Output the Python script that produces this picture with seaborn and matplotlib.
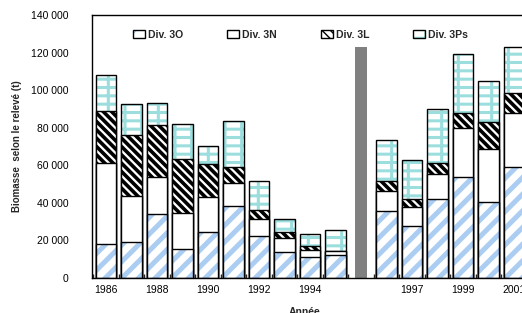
import numpy as np
import pandas as pd
import matplotlib.pyplot as plt
import seaborn as sns
from matplotlib.patches import Patch
from matplotlib.ticker import FixedLocator, FuncFormatter

# ================== Données ==================
annees = ["1986", "1987", "1988", "1989", "1990", "1991", "1992", "1993", "1994", "1995",
          "1996", "1997", "1998", "1999", "2000", "2001"]
div_3o = [17800, 19200, 33800, 15300, 24200, 38400, 22200, 13900, 10900, 12100,
          35400, 27700, 41800, 53900, 40500, 58900]
div_3n = [43200, 24500, 20100, 19400, 18700, 11900, 9100, 7100, 3900, 2000,
          11000, 9800, 13300, 26100, 28100, 29100]
div_3l = [27900, 32400, 27500, 28600, 17600, 8900, 4800, 3500, 2100, 300,
          5300, 4300, 6200, 7700, 14300, 10700]
div_3ps = [19200, 16400, 11900, 18500, 9700, 24200, 15600, 6600, 6200, 11000,
           21700, 21000, 28500, 31600, 22200, 24200]

# barre grise : changement d'engin entre 1995 et 1996
separateur = " "
separateur_valeur = 123000

ordre = annees[:10] + [separateur] + annees[10:]
annees_affichees = ["1986", "1988", "1990", "1992", "1994", "1997", "1999", "2001"]

df = pd.DataFrame({"annee": annees, "3O": div_3o, "3N": div_3n, "3L": div_3l, "3Ps": div_3ps})
df["c1"] = df["3O"]
df["c2"] = df["c1"] + df["3N"]
df["c3"] = df["c2"] + df["3L"]
df["c4"] = df["c3"] + df["3Ps"]
df_sep = pd.DataFrame({"annee": [separateur], "valeur": [separateur_valeur]})

# ================== Style ==================
sns.set_style("white")
plt.rcParams['font.family'] = ['Liberation Sans', 'DejaVu Sans']

bleu = "#abcdf2"
turquoise = "#9cdede"
gris = "#808080"

couches = [
    ("c4", "--|", turquoise, 2.2),
    ("c3", "\\\\\\\\", "black", 2.6),
    ("c2", None, "white", 1.0),
    ("c1", "//", bleu, 3.6),
]

fig = plt.figure(figsize=(5.22, 3.13), dpi=100)
ax = fig.add_axes([92 / 522, 35.3 / 313, 430 / 522, 262.5 / 313])


def style_barres(patches, hatch, hcolor, hlw, outline):
    for p in patches:
        if outline:
            p.set_facecolor("none")
            p.set_edgecolor("black")
            p.set_linewidth(1.0)
            p.set_hatch(None)
        else:
            p.set_facecolor("white")
            p.set_edgecolor(hcolor)
            p.set_linewidth(0)
            p.set_hatch(hatch)
            if hasattr(p, "set_hatch_linewidth"):
                p.set_hatch_linewidth(hlw)


# empilement : on dessine du total vers le bas, chaque couche recouvre la précédente
for col, hatch, hcolor, hlw in couches:
    with plt.rc_context({"hatch.linewidth": hlw}):
        n0 = len(ax.patches)
        sns.barplot(data=df, x="annee", y=col, order=ordre, width=0.8,
                    errorbar=None, color="white", ax=ax)
        style_barres(ax.patches[n0:], hatch, hcolor, hlw, outline=False)
        n0 = len(ax.patches)
        sns.barplot(data=df, x="annee", y=col, order=ordre, width=0.8,
                    errorbar=None, color="white", ax=ax)
        style_barres(ax.patches[n0:], hatch, hcolor, hlw, outline=True)

n0 = len(ax.patches)
sns.barplot(data=df_sep, x="annee", y="valeur", order=ordre, width=0.46,
            errorbar=None, color=gris, ax=ax)
for p in ax.patches[n0:]:
    p.set_facecolor(gris)
    p.set_edgecolor("none")

# ================== Axes ==================
ax.set_xlim(-0.55, 16.31)
ax.set_ylim(0, 140000)
ax.set_yticks(np.arange(0, 140001, 20000))
ax.yaxis.set_major_formatter(FuncFormatter(lambda v, _: f"{v:,.0f}".replace(",", " ")))
ax.set_xticks(range(len(ordre)))
ax.set_xticklabels([a if a in annees_affichees else "" for a in ordre])
ax.xaxis.set_minor_locator(FixedLocator(np.arange(-0.5, len(ordre), 1)))

ax.tick_params(axis="y", direction="in", length=4, width=1, pad=17, labelsize=7.5, colors="black")
ax.tick_params(axis="x", which="major", length=0, pad=5, labelsize=7.5, colors="black")
ax.tick_params(axis="x", which="minor", direction="in", length=3, width=1, bottom=True)

for s in ["left", "bottom", "top"]:
    ax.spines[s].set_color("black")
    ax.spines[s].set_linewidth(1.0)
ax.spines["right"].set_visible(False)

ax.set_xlabel("Année", fontsize=7.5, fontweight="bold", va="top")
ax.xaxis.set_label_coords(0.495, -0.112)
ax.set_ylabel("Biomasse  selon le relevé (t)", fontsize=7, fontweight="bold")
ax.yaxis.set_label_coords(-0.163, 0.5)

# ================== Légende ==================
def poignee(hatch, hcolor, hlw):
    with plt.rc_context({"hatch.linewidth": hlw}):
        fond = Patch(facecolor="white", edgecolor=hcolor, hatch=hatch, linewidth=0)
        if hasattr(fond, "set_hatch_linewidth"):
            fond.set_hatch_linewidth(hlw)
    bord = Patch(facecolor="none", edgecolor="black", linewidth=1.0)
    return (fond, bord)

poignees = [poignee("//", bleu, 3.6), poignee(None, "white", 1.0),
            poignee("\\\\\\\\", "black", 2.6), poignee("--|", turquoise, 2.2)]
noms = ["Div. 3O", "Div. 3N", "Div. 3L", "Div. 3Ps"]
leg = ax.legend(poignees, noms, ncol=4, loc="upper left", bbox_to_anchor=(0.0953, 0.945),
                frameon=False, borderpad=0, borderaxespad=0, handlelength=1.15,
                handleheight=0.85, handletextpad=0.3, columnspacing=4.2,
                prop={"size": 7.5, "weight": "bold"})

plt.savefig("out.png", dpi=100)
